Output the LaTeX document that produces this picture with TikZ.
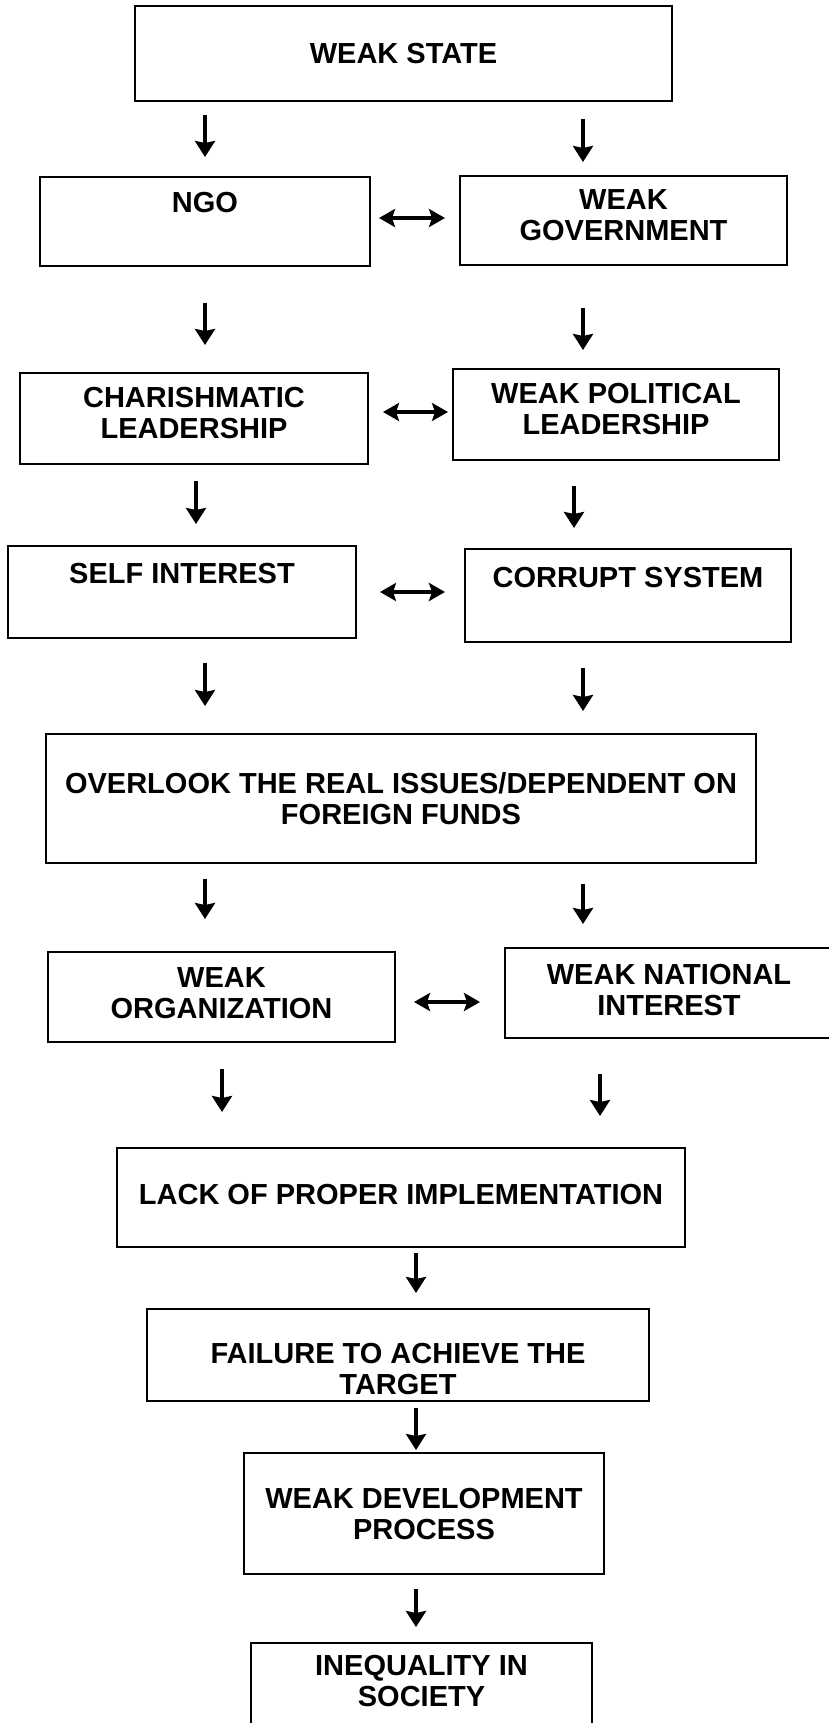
\documentclass[tikz,border=0pt]{standalone}
\usepackage{fontspec}
\setmainfont{Liberation Sans}
\usetikzlibrary{arrows.meta}

\begin{document}
\begin{tikzpicture}[x=1pt, y=-1pt,
    box/.style={draw, line width=2pt, align=center, inner sep=0pt,
                font=\bfseries\fontsize{29}{31}\selectfont},
    arr/.style={-{Stealth[length=16pt, width=20pt, inset=2pt]}, line width=3.8pt},
    dbl/.style={{Stealth[length=16pt, width=18pt, inset=3pt]}-{Stealth[length=16pt, width=18pt, inset=3pt]}, line width=3.8pt},
]

% frame
\path[use as bounding box, clip] (0,0) rectangle (829,1723);

% --- Top ---
\node[box, minimum width=537, minimum height=95] (ws) at (403.5,53.5) {WEAK STATE};

% --- Two columns ---
\node[box, minimum width=330, minimum height=89, text depth=39pt] (ngo) at (205,221.5) {NGO};
\node[box, minimum width=327, minimum height=89, text depth=10pt] (gov) at (623.5,220.5) {WEAK\\GOVERNMENT};

\node[box, minimum width=348, minimum height=91, text depth=12pt] (chl) at (194,418.5) {CHARISHMATIC\\LEADERSHIP};
\node[box, minimum width=326, minimum height=91, text depth=11pt] (wpl) at (616,414.5) {WEAK POLITICAL\\LEADERSHIP};

\node[box, minimum width=348, minimum height=92, text depth=38pt] (sin) at (182,592) {SELF INTEREST};
\node[box, minimum width=326, minimum height=93, text depth=37pt] (cor) at (628,595.5) {CORRUPT SYSTEM};

% --- Joint box ---
\node[box, minimum width=710, minimum height=129] (ovl) at (401,798.5) {OVERLOOK THE REAL ISSUES/DEPENDENT ON\\FOREIGN FUNDS};

\node[box, minimum width=347, minimum height=90, text depth=8pt] (wor) at (221.5,997) {WEAK\\ORGANIZATION};
\node[box, minimum width=328, minimum height=90, text depth=6pt] (wni) at (669,993) {WEAK NATIONAL\\INTEREST};

% --- Single chain ---
\node[box, minimum width=568, minimum height=99, text depth=7pt] (lck) at (401,1197.5) {LACK OF PROPER IMPLEMENTATION};
\node[box, minimum width=502, minimum height=92, text height=80pt] (fai) at (398,1355) {FAILURE TO ACHIEVE THE\\TARGET};
\node[box, minimum width=360, minimum height=121] (wdp) at (424,1513.5) {WEAK DEVELOPMENT\\PROCESS};
\node[box, minimum width=341, minimum height=90, text depth=14pt] (inq) at (421.5,1688) {INEQUALITY IN\\SOCIETY};

% arrow columns
\coordinate (colA) at (205,0);
\coordinate (colB) at (583,0);
\coordinate (colC) at (196,0);
\coordinate (colD) at (574,0);
\coordinate (colE) at (222,0);
\coordinate (colF) at (600,0);
\coordinate (colM) at (416,0);

% --- Arrows ---
\draw[arr, shorten <=13pt, shorten >=19pt] (ws.south -| colA) -- (ngo.north -| colA);
\draw[arr, shorten <=17pt, shorten >=13pt] (ws.south -| colB) -- (gov.north -| colB);
\draw[arr, shorten <=36pt, shorten >=27pt] (ngo.south -| colA) -- (chl.north -| colA);
\draw[arr, shorten <=42pt, shorten >=18pt] (gov.south -| colB) -- (wpl.north -| colB);
\draw[arr, shorten <=16pt, shorten >=21pt] (chl.south -| colC) -- (sin.north -| colC);
\draw[arr, shorten <=25pt, shorten >=20pt] (wpl.south -| colD) -- (cor.north -| colD);
\draw[arr, shorten <=24pt, shorten >=27pt] (sin.south -| colA) -- (ovl.north -| colA);
\draw[arr, shorten <=25pt, shorten >=22pt] (cor.south -| colB) -- (ovl.north -| colB);
\draw[arr, shorten <=15pt, shorten >=32pt] (ovl.south -| colA) -- (wor.north -| colA);
\draw[arr, shorten <=20pt, shorten >=23pt] (ovl.south -| colB) -- (wni.north -| colB);
\draw[arr, shorten <=26pt, shorten >=35pt] (wor.south -| colE) -- (lck.north -| colE);
\draw[arr, shorten <=35pt, shorten >=31pt] (wni.south -| colF) -- (lck.north -| colF);
\draw[arr, shorten <=5pt, shorten >=15pt] (lck.south -| colM) -- (fai.north -| colM);
\draw[arr, shorten <=6pt, shorten >=2pt] (fai.south -| colM) -- (wdp.north -| colM);
\draw[arr, shorten <=14pt, shorten >=15pt] (wdp.south -| colM) -- (inq.north -| colM);

% --- Two-way links ---
\draw[dbl, shorten <=8pt, shorten >=14pt] ([yshift=3.5pt]ngo.east) -- ([yshift=3.5pt]ngo.east -| gov.west);
\draw[dbl, shorten <=14pt, shorten >=4pt] ([yshift=6.5pt]chl.east) -- ([yshift=6.5pt]chl.east -| wpl.west);
\draw[dbl, shorten <=23pt, shorten >=19pt] (sin.east) -- (sin.east -| cor.west);
\draw[dbl, shorten <=18pt, shorten >=24pt] ([yshift=-5pt]wor.east) -- ([yshift=-5pt]wor.east -| wni.west);

\end{tikzpicture}
\end{document}
